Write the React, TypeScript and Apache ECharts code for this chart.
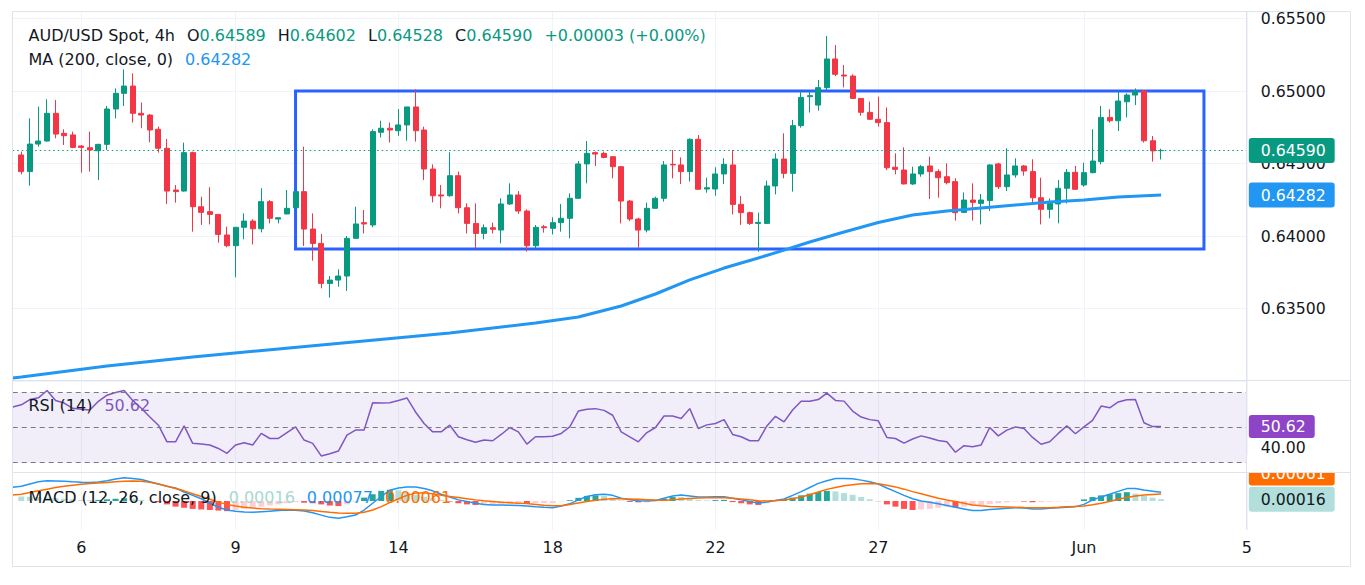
import { useEffect, useRef } from "react";
import * as echarts from "echarts";

// ---------- price data (4h candles, visible candle index 0..133) ----------
const opens = [
  0.64559, 0.64444, 0.64634, 0.64655, 0.64846, 0.64708, 0.64697, 0.64621, 0.64609, 0.64588,
  0.64632, 0.64876, 0.64984, 0.65034, 0.64846, 0.64834, 0.64736, 0.64605, 0.64317, 0.6431,
  0.64575, 0.64202, 0.64168, 0.64149, 0.64007, 0.63933, 0.6406, 0.64103, 0.6405, 0.64237,
  0.64117, 0.64152, 0.64195, 0.64306, 0.64048, 0.63949, 0.63673, 0.63696, 0.63724, 0.63984,
  0.64092, 0.64076, 0.64715, 0.64743, 0.64726, 0.64766, 0.6489, 0.64731, 0.64462, 0.64283,
  0.64278, 0.64416, 0.64195, 0.64087, 0.64018, 0.64057, 0.64041, 0.64221, 0.64283, 0.64172,
  0.63933, 0.64064, 0.64053, 0.64092, 0.64122, 0.6426, 0.64497, 0.64575, 0.6457, 0.64547,
  0.64478, 0.64241, 0.64117, 0.64041, 0.64191, 0.6426, 0.64494, 0.6449, 0.64444, 0.64667,
  0.64324, 0.64324, 0.64428, 0.6449, 0.64218, 0.64161, 0.64087, 0.64087, 0.64345, 0.64531,
  0.64432, 0.64761, 0.64961, 0.64903, 0.65023, 0.65221, 0.6511, 0.65103, 0.64949, 0.64853,
  0.64805, 0.64782, 0.64474, 0.64455, 0.64359, 0.64428, 0.64483, 0.64444, 0.64409, 0.64375,
  0.64163, 0.64248, 0.64225, 0.64244, 0.64497, 0.6434, 0.64421, 0.64483, 0.64444, 0.64264,
  0.64184, 0.64221, 0.64329, 0.64439, 0.64352, 0.64437, 0.64513, 0.64818, 0.64795, 0.64926,
  0.64972, 0.65, 0.64657, 0.64589,
];
const highs = [
  0.64582, 0.64811, 0.64892, 0.64943, 0.64938, 0.64736, 0.6472, 0.64628, 0.6472, 0.64636,
  0.64897, 0.65018, 0.65149, 0.65122, 0.6492, 0.64841, 0.64754, 0.64669, 0.64352, 0.64644,
  0.64582, 0.64271, 0.64336, 0.64152, 0.64064, 0.64062, 0.64156, 0.64115, 0.64329, 0.64248,
  0.64126, 0.64317, 0.64312, 0.64616, 0.64156, 0.64014, 0.63724, 0.6377, 0.64, 0.64202,
  0.64179, 0.64736, 0.64795, 0.64782, 0.64876, 0.6489, 0.65012, 0.64754, 0.64494, 0.64352,
  0.64577, 0.64444, 0.64225, 0.64225, 0.6408, 0.64092, 0.6426, 0.64363, 0.6431, 0.64184,
  0.64076, 0.64076, 0.64129, 0.64221, 0.64294, 0.64517, 0.64655, 0.64582, 0.64582, 0.64547,
  0.64483, 0.64248, 0.64126, 0.6423, 0.64271, 0.64517, 0.64593, 0.64542, 0.64674, 0.64697,
  0.64402, 0.64474, 0.64536, 0.64593, 0.64276, 0.64168, 0.64161, 0.64382, 0.6457, 0.64708,
  0.648, 0.65, 0.64995, 0.65076, 0.65379, 0.65317, 0.65179, 0.65115, 0.64949, 0.64926,
  0.64961, 0.64887, 0.6457, 0.64611, 0.64478, 0.6449, 0.64547, 0.6446, 0.64501, 0.64398,
  0.64301, 0.64363, 0.6429, 0.64494, 0.64506, 0.64605, 0.64536, 0.6449, 0.64529, 0.64402,
  0.6426, 0.64386, 0.64462, 0.64483, 0.64506, 0.64736, 0.64897, 0.64874, 0.65002, 0.64984,
  0.65018, 0.65007, 0.6469, 0.64602,
];
const lows = [
  0.64425, 0.64347, 0.64616, 0.64651, 0.64674, 0.64628, 0.64605, 0.64437, 0.64444, 0.64386,
  0.64593, 0.64811, 0.64897, 0.64782, 0.64743, 0.64646, 0.64575, 0.64221, 0.6423, 0.64306,
  0.6403, 0.64076, 0.6408, 0.63954, 0.63922, 0.63715, 0.63977, 0.63942, 0.64025, 0.64087,
  0.64087, 0.6415, 0.64192, 0.63931, 0.6383, 0.63639, 0.63575, 0.6365, 0.63621, 0.6398,
  0.64018, 0.6406, 0.6468, 0.64644, 0.6469, 0.64657, 0.64651, 0.64386, 0.64232, 0.64191,
  0.64271, 0.64156, 0.64018, 0.63915, 0.63977, 0.64018, 0.63949, 0.64214, 0.64152, 0.63892,
  0.63915, 0.64023, 0.64011, 0.6403, 0.63984, 0.64255, 0.64363, 0.64483, 0.64536, 0.64398,
  0.64087, 0.64103, 0.63919, 0.64025, 0.64186, 0.64237, 0.64398, 0.64359, 0.64375, 0.6432,
  0.64299, 0.64278, 0.64359, 0.64149, 0.64076, 0.64076, 0.63892, 0.64085, 0.64287, 0.64398,
  0.64306, 0.64747, 0.64851, 0.64864, 0.65007, 0.65103, 0.65025, 0.64947, 0.6483, 0.648,
  0.64754, 0.64455, 0.64425, 0.64356, 0.64352, 0.64409, 0.64255, 0.64264, 0.64356, 0.64106,
  0.64158, 0.64106, 0.6408, 0.64172, 0.64324, 0.6431, 0.64402, 0.64416, 0.64221, 0.6408,
  0.64122, 0.64087, 0.64225, 0.64317, 0.6434, 0.64432, 0.64494, 0.64782, 0.64724, 0.64818,
  0.64903, 0.64644, 0.64513, 0.64528,
];
const closes = [
  0.64444, 0.64634, 0.64655, 0.64846, 0.64703, 0.64692, 0.64611, 0.64611, 0.64593, 0.64632,
  0.64876, 0.64984, 0.65034, 0.64846, 0.64834, 0.64731, 0.64605, 0.6431, 0.64306, 0.64575,
  0.64202, 0.64163, 0.64149, 0.64011, 0.63933, 0.6406, 0.64103, 0.6405, 0.64237, 0.64122,
  0.64126, 0.64191, 0.64306, 0.64048, 0.63949, 0.63673, 0.63696, 0.63724, 0.63984, 0.64083,
  0.64083, 0.6472, 0.64743, 0.64731, 0.64766, 0.6489, 0.64726, 0.64462, 0.64278, 0.64276,
  0.64416, 0.64195, 0.64087, 0.64018, 0.64057, 0.64046, 0.64221, 0.64283, 0.64172, 0.63933,
  0.6406, 0.64057, 0.64092, 0.64122, 0.6426, 0.64497, 0.6457, 0.64565, 0.64542, 0.64478,
  0.64241, 0.64117, 0.64041, 0.64191, 0.6426, 0.6449, 0.6449, 0.64444, 0.64667, 0.64322,
  0.64333, 0.64428, 0.64494, 0.64218, 0.64161, 0.64087, 0.64094, 0.64345, 0.64531, 0.64432,
  0.64761, 0.64956, 0.64968, 0.65023, 0.65221, 0.65115, 0.65103, 0.64949, 0.64853, 0.64805,
  0.64782, 0.64471, 0.6446, 0.64359, 0.64428, 0.64478, 0.64444, 0.64402, 0.64368, 0.64161,
  0.64248, 0.64232, 0.64248, 0.6449, 0.6434, 0.64421, 0.64483, 0.64448, 0.64264, 0.64184,
  0.64225, 0.64329, 0.64439, 0.64322, 0.64437, 0.64517, 0.64818, 0.64795, 0.64931, 0.64972,
  0.65, 0.64657, 0.64587, 0.6459,
];

// MA(200, close) readings: candle index (-1 = left edge of pane) and value
const maIndex = [-1, 0, 10, 20, 30, 40, 50, 60, 65, 70, 74, 78, 82, 86, 89, 92, 96, 100, 104, 108, 112, 116, 120, 124, 128, 133];
const maValues = [
  0.63021, 0.63028, 0.63103, 0.63166, 0.63221, 0.63276, 0.63331, 0.634, 0.63441, 0.63517,
  0.636, 0.63697, 0.63779, 0.63848, 0.63903, 0.63959, 0.64028, 0.64093, 0.64145, 0.64172,
  0.64193, 0.64214, 0.64234, 0.64248, 0.64269, 0.64282,
];

// Indicator readings; first value sits on the pane's left edge (index -1)
const rsiValues = [
  61.7,
  63, 66, 67, 71.2, 65.5, 64, 61, 60.5, 60, 65,
  68.5, 70, 71.2, 65.5, 61, 56, 51.3, 41.8, 41.8, 50.9,
  40.9, 40.5, 40, 38, 35.2, 40, 41.3, 40, 46.6, 43.7,
  43.7, 47, 50.3, 42.8, 40.9, 33.7, 35, 36.5, 45.6, 48.5,
  48.5, 64.2, 64, 64.2, 65.5, 66.9, 58.9, 52.3, 47.5, 47.5,
  51.3, 44.7, 43, 41.5, 42.8, 42.4, 46, 50, 47.5, 40.5,
  44.7, 44.7, 45, 46.6, 50.3, 59.4, 60.5, 60.8, 59.8, 57,
  47.5, 44.6, 41.8, 47.1, 50, 56.6, 56.6, 55.1, 60.8, 49.4,
  51.5, 52.3, 54.5, 46, 44.7, 42.4, 42.4, 50.9, 56.4, 53.2,
  60, 65, 65, 66, 69.7, 65.5, 65.1, 59.4, 56, 54.5,
  53.8, 44.3, 43.7, 41, 43.4, 45.2, 44, 42.5, 41.8, 35.8,
  39.6, 39, 40, 50, 45.2, 48.5, 50.3, 49.4, 44.3, 40.4,
  41.8, 46.6, 50.9, 46.4, 50.3, 54.1, 62.3, 61.3, 64.6, 65.9,
  66, 52.7, 50.5, 50.62,
];
const macdValues = [
  0.00121,
  0.0013, 0.0015, 0.0017, 0.0018, 0.00178, 0.00175, 0.0017, 0.00167, 0.00165, 0.00168,
  0.0018, 0.00195, 0.00206, 0.002, 0.0019, 0.0017, 0.0015, 0.0013, 0.00115, 0.0008,
  0.0005, 0.0002, -0.0002, -0.00055, -0.0008, -0.0009, -0.00098, -0.001, -0.00095, -0.0009,
  -0.00085, -0.0008, -0.00082, -0.00088, -0.00105, -0.00125, -0.00145, -0.00153, -0.0014, -0.00125,
  -0.0008, -0.0002, 0.0004, 0.00095, 0.00115, 0.00125, 0.00125, 0.0011, 0.0009, 0.0006,
  0.00035, 0.0001, -0.00005, -0.0002, -0.0003, -0.00035, -0.00035, -0.00037, -0.0004, -0.00044,
  -0.0005, -0.00055, -0.00059, -0.00045, -0.00025, 0.0001, 0.0004, 0.00055, 0.0006, 0.0005,
  0.00025, 0.0001, 0.00003, 0, 0.00005, 0.00025, 0.00045, 0.00053, 0.00045, 0.00035,
  0.00035, 0.00037, 0.00038, 0.00025, 0.0001, -0.00005, -0.00018, -0.0001, 0.00005, 0.00018,
  0.0005, 0.00083, 0.0012, 0.00156, 0.0018, 0.002, 0.002, 0.00197, 0.00185, 0.0017,
  0.0015, 0.00115, 0.00083, 0.0005, 0.0002, 0, -0.00012, -0.00025, -0.0004, -0.00055,
  -0.0007, -0.00085, -0.00085, -0.00075, -0.0007, -0.00065, -0.0006, -0.00063, -0.0007, -0.0007,
  -0.00065, -0.0006, -0.00055, -0.0005, -0.0003, 0.0001, 0.00035, 0.0006, 0.00085, 0.0011,
  0.0011, 0.00097, 0.00087, 0.00077,
];
const signalValues = [
  0.00053,
  0.0006, 0.00075, 0.0009, 0.00105, 0.0012, 0.0013, 0.0014, 0.00148, 0.00155, 0.0016,
  0.00165, 0.0017, 0.00175, 0.00177, 0.00175, 0.00165, 0.0015, 0.0013, 0.0011, 0.0009,
  0.00065, 0.0004, 0.00015, -0.0001, -0.0003, -0.00045, -0.00055, -0.00063, -0.00068, -0.00071,
  -0.00073, -0.00075, -0.00077, -0.0008, -0.00085, -0.00092, -0.001, -0.00106, -0.00109, -0.00109,
  -0.001, -0.0008, -0.0005, -0.00015, 0.0002, 0.0005, 0.0007, 0.00072, 0.00065, 0.0005,
  0.0004, 0.0003, 0.0002, 0.0001, 0.00002, -0.00004, -0.0001, -0.00015, -0.0002, -0.00023,
  -0.0003, -0.00037, -0.00042, -0.00042, -0.00032, -0.00018, -0.00005, 0.00006, 0.00015, 0.0002,
  0.0002, 0.00018, 0.00015, 0.00012, 0.00008, 0.00006, 0.0001, 0.00018, 0.00023, 0.00027,
  0.00029, 0.00029, 0.00028, 0.00024, 0.00018, 0.00012, 0.00003, 0, 0.00004, 0.00009,
  0.0002, 0.00035, 0.00055, 0.0008, 0.00103, 0.0012, 0.00135, 0.00145, 0.00153, 0.00156,
  0.00152, 0.0014, 0.00125, 0.00105, 0.00083, 0.00065, 0.00045, 0.00025, 0.00008, -0.00005,
  -0.0002, -0.00035, -0.00042, -0.00048, -0.0005, -0.00053, -0.00056, -0.00058, -0.00059, -0.0006,
  -0.00059, -0.00056, -0.00052, -0.00048, -0.00044, -0.00033, -0.0002, -0.00005, 0.00015, 0.00032,
  0.00045, 0.00053, 0.00058, 0.00061,
];
const histValues = [
  0.0004, 0.00038, 0.00035, 0.0003, 0.00025, 0.0002, 0.00015, 0.0001, 0.00008, 0.0001,
  0.00015, 0.0002, 0.00025, 0.0002, 0.0001, 0.00002, -0.0001, -0.0003, -0.0005, -0.0006,
  -0.0007, -0.00075, -0.0008, -0.00085, -0.0009, -0.0008, -0.0007, -0.0006, -0.0005, -0.0004,
  -0.0003, -0.0002, -0.0001, -0.00015, -0.0002, -0.0003, -0.0004, -0.00045, -0.0003, -0.0001,
  0.0003, 0.0006, 0.0009, 0.001, 0.00095, 0.00075, 0.00055, 0.00038, 0.00025, 0.0001,
  -0.00005, -0.0002, -0.0003, -0.00035, -0.00032, -0.0003, -0.00025, -0.00022, -0.0002, -0.00021,
  -0.0002, -0.00018, -0.00017, -0.00003, 0.00007, 0.00028, 0.00045, 0.0005, 0.00045, 0.0003,
  0.00005, -0.00008, -0.00012, -0.00012, -0.00003, 0.00019, 0.00035, 0.00035, 0.00022, 0.00008,
  0.00006, 0.00008, 0.0001, -0.0001, -0.0002, -0.0003, -0.00035, -0.0002, -0.00005, 0.0001,
  0.0003, 0.0005, 0.00065, 0.0008, 0.0009, 0.00085, 0.0007, 0.00055, 0.00035, 0.00015,
  -0.00002, -0.0003, -0.0005, -0.0007, -0.0008, -0.00075, -0.0007, -0.0006, -0.0005, -0.00055,
  -0.0005, -0.0004, -0.00035, -0.00027, -0.0002, -0.00012, -0.00004, -0.00005, -0.00011, -0.0001,
  -0.00006, -0.00004, -0.00003, -0.00002, 0.00014, 0.00035, 0.0005, 0.0006, 0.0007, 0.00078,
  0.00065, 0.00044, 0.00029, 0.00016,
];

// time axis ticks (candle index) and their labels
const dayTickIndex = [7, 25, 44, 62, 81, 100, 124, 143];
const dayTickLabels = ["6", "9", "14", "18", "22", "27", "Jun", "5"];

// drawn rectangle (range): candle index span and price bounds
const rangeStartIdx = 32;
const rangeEndIdx = 138;
const rangeTop = 0.65;
const rangeBottom = 0.6391;

// ---------- styling ----------
const TXT = "#131722";
const GREEN = "#089981";
const RED = "#f23645";
const BLUE = "#2196f3";
const PURPLE = "#7e57c2";
const ORANGE = "#ff6d00";
const BORDER = "#e0e3eb";
const GRIDC = "#f0f3fa";
const FONT = "'DejaVu Sans', sans-serif";
const LEGEND_FS = 16;
const AXIS_FS = 15.7;

const NCAT = 145;
const BAND = 8.57;
const LEFT = 12.73;
const WIDTH = BAND * (NCAT - 1);

export default function App() {
  const ref = useRef<HTMLDivElement>(null);

  useEffect(() => {
    if (!ref.current) return;
    const chart = echarts.init(ref.current, null, { renderer: "svg" });

    const K = opens.length;
    const cats = Array.from({ length: NCAT }, (_, k) => String(k));
    const tickCats = new Set(dayTickIndex.map((i) => i + 1));
    const labelOf: Record<string, string> = {};
    dayTickIndex.forEach((i, j) => (labelOf[String(i + 1)] = dayTickLabels[j]));

    const candleData = cats.map((_, k) => {
      const i = k - 1;
      return i >= 0 && i < K ? [opens[i], closes[i], lows[i], highs[i]] : "-";
    });
    const maData: (number | null)[] = cats.map(() => null);
    maIndex.forEach((i, j) => (maData[i + 1] = maValues[j]));
    const rsiData = cats.map((_, k) => (k < rsiValues.length ? rsiValues[k] : null));
    const macdData = cats.map((_, k) => (k < macdValues.length ? macdValues[k] : null));
    const sigData = cats.map((_, k) => (k < signalValues.length ? signalValues[k] : null));
    const histData = cats.map((_, k) => {
      const i = k - 1;
      if (i < 0 || i >= histValues.length) return "-";
      const v = histValues[i];
      const p = i > 0 ? histValues[i - 1] : v;
      const color = v >= 0 ? (v > p ? "#26a69a" : "#b2dfdb") : v < p ? "#ff5252" : "#ffcdd2";
      return { value: v, itemStyle: { color } };
    });

    const last = K - 1;
    const chg = closes[last] - closes[last - 1];
    const pct = (chg / closes[last - 1]) * 100;
    const sign = chg >= 0 ? "+" : "-";
    const f5 = (v: number) => v.toFixed(5);

    const xAxisOf = (gridIndex: number, showLabels: boolean) => ({
      type: "category",
      gridIndex,
      data: cats,
      boundaryGap: false,
      axisLine: { show: false },
      axisTick: { show: false },
      splitLine: {
        show: true,
        interval: (idx: number) => tickCats.has(idx),
        lineStyle: { color: GRIDC, width: 1 },
      },
      axisLabel: {
        show: showLabels,
        interval: (idx: number) => tickCats.has(idx),
        formatter: (v: string) => labelOf[v] ?? "",
        color: TXT,
        fontSize: LEGEND_FS,
        fontWeight: "normal",
        fontFamily: FONT,
        margin: 9,
      },
    });

    const tag = (bg: string, fg: string, text: string, extra: object = {}) => ({
      show: true,
      position: "end",
      distance: 2,
      formatter: text,
      color: fg,
      backgroundColor: bg,
      padding: [5, 9, 4, 12],
      borderRadius: 3,
      fontSize: AXIS_FS,
      fontWeight: "normal",
      fontFamily: FONT,
      ...extra,
    });
    const hiddenLine = { color: "rgba(0,0,0,0)", width: 0 };

    const frag = (color: string) => ({
      color,
      fontSize: LEGEND_FS,
      fontWeight: "normal",
      fontFamily: FONT,
      lineHeight: 20,
    });
    const rich = {
      n: frag(TXT),
      g: frag(GREEN),
      b: frag(BLUE),
      p: frag(PURPLE),
      t: frag("#a6d9d1"),
      o: frag(ORANGE),
      s: { width: 12, lineHeight: 20, fontSize: LEGEND_FS, fontWeight: "normal" },
    };
    const GAP = "{s| }";
    const titleStyle = { rich, fontWeight: "normal", fontSize: LEGEND_FS, fontFamily: FONT, color: TXT };

    const option = {
      animation: false,
      backgroundColor: "#ffffff",
      textStyle: { fontFamily: FONT },
      title: [
        {
          left: 28.5,
          top: 25,
          padding: 0,
          text:
            `{n|AUD/USD Spot, 4h}${GAP}{n|O}{g|${f5(opens[last])}}${GAP}{n|H}{g|${f5(highs[last])}}${GAP}` +
            `{n|L}{g|${f5(lows[last])}}${GAP}{n|C}{g|${f5(closes[last])}}${GAP}` +
            `{g|${sign}${f5(Math.abs(chg))} (${sign}${Math.abs(pct).toFixed(2)}%)}`,
          textStyle: titleStyle,
        },
        {
          left: 28.5,
          top: 49,
          padding: 0,
          text: `{n|MA (200, close, 0)}${GAP}{b|${f5(maValues[maValues.length - 1])}}`,
          textStyle: titleStyle,
        },
        {
          left: 28.5,
          top: 395,
          padding: 0,
          text: `{n|RSI (14)}${GAP}{p|${rsiValues[rsiValues.length - 1].toFixed(2)}}`,
          textStyle: titleStyle,
        },
        {
          left: 28.5,
          top: 487,
          padding: 0,
          text:
            `{n|MACD (12, 26, close, 9)}${GAP}{t|${f5(histValues[histValues.length - 1])}}${GAP}` +
            `{b|${f5(macdValues[macdValues.length - 1])}}${GAP}{o|${f5(signalValues[signalValues.length - 1])}}`,
          textStyle: titleStyle,
        },
      ],
      grid: [
        { left: LEFT, width: WIDTH, top: 11.25, height: 369.75, show: false },
        { left: LEFT, width: WIDTH, top: 380, height: 92, show: false },
        { left: LEFT, width: WIDTH, top: 472, height: 58, show: false },
      ],
      xAxis: [xAxisOf(0, false), xAxisOf(1, false), xAxisOf(2, true)],
      yAxis: [
        {
          type: "value",
          gridIndex: 0,
          position: "right",
          min: 0.63,
          max: 0.6555,
          interval: 0.005,
          axisLine: { show: false },
          axisTick: { show: false },
          axisLabel: {
            color: TXT,
            fontSize: AXIS_FS,
            fontWeight: "normal",
            fontFamily: FONT,
            margin: 14,
            showMinLabel: false,
            showMaxLabel: false,
            formatter: (v: number) => v.toFixed(5),
          },
          splitLine: { show: true, lineStyle: { color: GRIDC } },
        },
        {
          type: "value",
          gridIndex: 1,
          position: "right",
          min: 24.5,
          max: 77.2,
          axisLine: { show: false },
          axisTick: { show: false },
          axisLabel: { show: false },
          splitLine: { show: false },
        },
        {
          type: "value",
          gridIndex: 2,
          position: "right",
          min: -0.00257,
          max: 0.00257,
          axisLine: { show: false },
          axisTick: { show: false },
          axisLabel: { show: false },
          splitLine: { show: false },
        },
      ],
      series: [
        {
          name: "AUD/USD",
          type: "candlestick",
          xAxisIndex: 0,
          yAxisIndex: 0,
          data: candleData,
          barWidth: 5.5,
          itemStyle: {
            color: GREEN,
            color0: RED,
            borderColor: GREEN,
            borderColor0: RED,
            borderWidth: 1,
          },
          markArea: {
            silent: true,
            itemStyle: { color: "rgba(0,0,0,0)", borderColor: "#2962ff", borderWidth: 3 },
            data: [
              [
                { xAxis: rangeStartIdx + 1, yAxis: rangeTop },
                { xAxis: rangeEndIdx + 1, yAxis: rangeBottom },
              ],
            ],
          },
          markLine: {
            silent: true,
            precision: 6,
            symbol: ["none", "none"],
            data: [
              {
                yAxis: closes[last],
                lineStyle: { color: GREEN, type: [1.5, 3], width: 1 },
                label: tag(GREEN, "#ffffff", f5(closes[last])),
              },
            ],
          },
        },
        {
          name: "MA 200",
          type: "line",
          xAxisIndex: 0,
          yAxisIndex: 0,
          data: maData,
          connectNulls: true,
          symbol: "none",
          lineStyle: { color: BLUE, width: 3 },
          z: 3,
          markLine: {
            silent: true,
            precision: 6,
            symbol: ["none", "none"],
            data: [
              {
                yAxis: maValues[maValues.length - 1],
                lineStyle: hiddenLine,
                label: tag(BLUE, "#ffffff", f5(maValues[maValues.length - 1])),
              },
            ],
          },
        },
        {
          name: "RSI",
          type: "line",
          xAxisIndex: 1,
          yAxisIndex: 1,
          data: rsiData,
          symbol: "none",
          lineStyle: { color: PURPLE, width: 1.5 },
          markArea: {
            silent: true,
            itemStyle: { color: "rgba(126,87,194,0.1)" },
            data: [[{ yAxis: 70 }, { yAxis: 30 }]],
          },
          markLine: {
            silent: true,
            precision: 4,
            symbol: ["none", "none"],
            label: { show: false },
            lineStyle: { color: "#787b86", type: [5, 4], width: 1 },
            data: [
              { yAxis: 70 },
              { yAxis: 50 },
              { yAxis: 30 },
              {
                yAxis: 40,
                lineStyle: hiddenLine,
                label: {
                  show: true,
                  position: "end",
                  distance: 14,
                  offset: [0, 3],
                  formatter: "40.00",
                  color: TXT,
                  fontSize: AXIS_FS,
                  fontWeight: "normal",
                  fontFamily: FONT,
                },
              },
              {
                yAxis: rsiValues[rsiValues.length - 1],
                lineStyle: hiddenLine,
                label: tag("#8e44c6", "#ffffff", rsiValues[rsiValues.length - 1].toFixed(2), {
                  padding: [4, 9, 3, 12],
                }),
              },
            ],
          },
        },
        {
          name: "Histogram",
          type: "bar",
          xAxisIndex: 2,
          yAxisIndex: 2,
          data: histData,
          barWidth: 6,
          markLine: {
            silent: true,
            precision: 6,
            symbol: ["none", "none"],
            data: [
              {
                yAxis: histValues[histValues.length - 1],
                lineStyle: hiddenLine,
                label: tag("#b2dfdb", TXT, f5(histValues[histValues.length - 1])),
              },
            ],
          },
        },
        {
          name: "MACD",
          type: "line",
          xAxisIndex: 2,
          yAxisIndex: 2,
          data: macdData,
          symbol: "none",
          lineStyle: { color: BLUE, width: 1.5 },
        },
        {
          name: "Signal",
          type: "line",
          xAxisIndex: 2,
          yAxisIndex: 2,
          data: sigData,
          symbol: "none",
          lineStyle: { color: ORANGE, width: 1.5 },
          markLine: {
            silent: true,
            precision: 6,
            symbol: ["none", "none"],
            data: [
              {
                yAxis: signalValues[signalValues.length - 1],
                lineStyle: hiddenLine,
                label: tag(ORANGE, "#ffffff", f5(signalValues[signalValues.length - 1]), {
                  offset: [0, -21],
                }),
              },
            ],
          },
        },
      ],
      graphic: [
        {
          type: "rect",
          z: 99,
          silent: true,
          shape: { x: 1247, y: 455, width: 103, height: 17 },
          style: { fill: "#ffffff" },
        },
        {
          type: "rect",
          z: 100,
          silent: true,
          shape: { x: 12.5, y: 11.5, width: 1338, height: 555 },
          style: { fill: "none", stroke: BORDER, lineWidth: 1 },
        },
        {
          type: "line",
          z: 100,
          silent: true,
          shape: { x1: 1246.5, y1: 11, x2: 1246.5, y2: 530 },
          style: { stroke: BORDER, lineWidth: 1 },
        },
        {
          type: "line",
          z: 100,
          silent: true,
          shape: { x1: 12, y1: 380.5, x2: 1351, y2: 380.5 },
          style: { stroke: BORDER, lineWidth: 1 },
        },
        {
          type: "line",
          z: 100,
          silent: true,
          shape: { x1: 12, y1: 472.5, x2: 1351, y2: 472.5 },
          style: { stroke: BORDER, lineWidth: 1 },
        },
      ],
    };

    chart.setOption(option as any);
    return () => chart.dispose();
  }, []);

  return (
    <div
      ref={ref}
      style={{ position: "absolute", left: 0, top: 0, width: 1365, height: 585, background: "#fff" }}
    />
  );
}
